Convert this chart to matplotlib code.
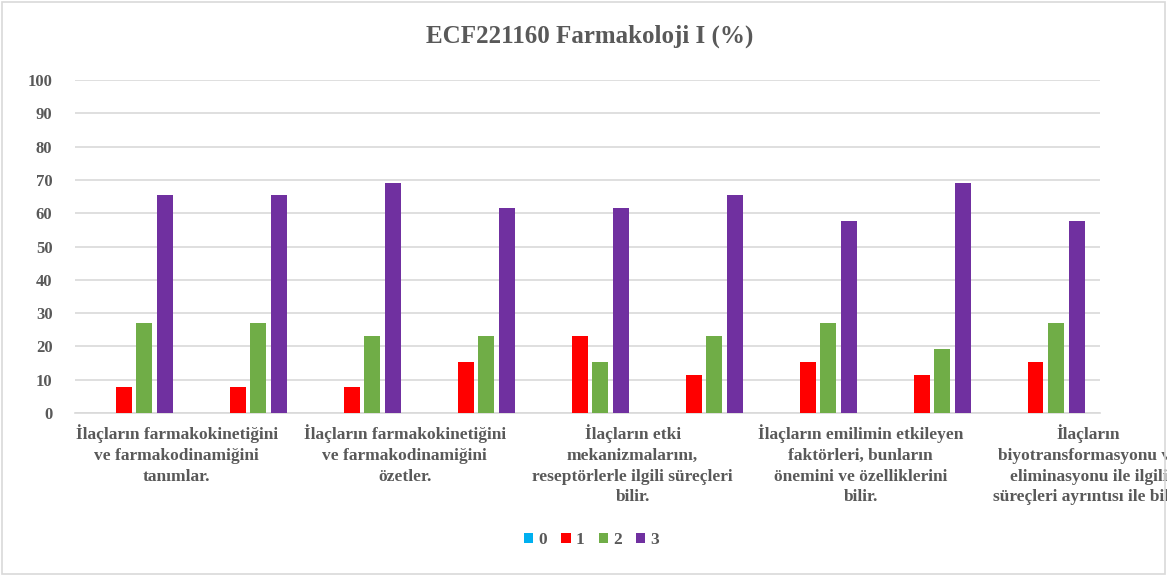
import matplotlib
matplotlib.use("Agg")
import matplotlib.pyplot as plt
import matplotlib.transforms as mtransforms
from matplotlib.patches import Rectangle
import numpy as np

# === data ===
series_names = ['0', '1', '2', '3']
vals_0 = [0, 0, 0, 0, 0, 0, 0, 0, 0]
vals_1 = [7.7, 7.7, 7.7, 15.4, 23.1, 11.5, 15.4, 11.5, 15.4]
vals_2 = [26.9, 26.9, 23.1, 23.1, 15.4, 23.1, 26.9, 19.2, 26.9]
vals_3 = [65.4, 65.4, 69.2, 61.5, 61.5, 65.4, 57.7, 69.2, 57.7]
tick_labels = [
    'İlaçların farmakokinetiğini\nve farmakodinamiğini\ntanımlar.',
    'İlaçların farmakokinetiğini\nve farmakodinamiğini\nözetler.',
    'İlaçların etki\nmekanizmalarını,\nreseptörlerle ilgili süreçleri\nbilir.',
    'İlaçların emilimin etkileyen\nfaktörleri, bunların\nönemini ve özelliklerini\nbilir.',
    'İlaçların\nbiyotransformasyonu ve\neliminasyonu ile ilgili\nsüreçleri ayrıntısı ile bilir.',
]
colors = ['#00B0F0', '#FF0000', '#70AD47', '#7030A0']

serif = ['Liberation Serif', 'DejaVu Serif']
gray = '#595959'

fig = plt.figure(figsize=(11.67, 5.76), dpi=100)
fig.patches.append(Rectangle((0.002, 0.003), 0.996, 0.994, transform=fig.transFigure,
                             fill=False, edgecolor='#d9d9d9', linewidth=1.2))
ax = fig.add_axes([0.064, 0.283, 0.879, 0.578])

x = np.arange(len(vals_1))
width = 0.14
step = 0.18
all_vals = [vals_0, vals_1, vals_2, vals_3]
for i, (v, c, name) in enumerate(zip(all_vals, colors, series_names)):
    ax.bar(x + (i - 1.5) * step + 0.02, v, width=width, color=c, label=name, zorder=3)

ax.set_xlim(-0.5, len(x) - 0.5)
ax.set_ylim(0, 100)
ax.set_yticks(range(0, 101, 10))
ax.yaxis.grid(True, color='#d9d9d9', linewidth=1.2, zorder=0)
for s in ['top', 'right', 'left']:
    ax.spines[s].set_visible(False)
ax.spines['bottom'].set_color('#d9d9d9')
ax.spines['bottom'].set_linewidth(1.2)
ax.tick_params(axis='both', length=0)
ax.tick_params(axis='y', pad=16)
ax.tick_params(axis='x', pad=8)

ax.set_xticks(x[::2])
ax.set_xticklabels(tick_labels, fontfamily=serif, fontweight='bold', fontsize=12.5,
                   color=gray, linespacing=1.4)
offset = mtransforms.ScaledTranslation(0.45, 0, fig.dpi_scale_trans)
for lab in ax.get_xticklabels():
    lab.set_transform(lab.get_transform() + offset)
for lab in ax.get_yticklabels():
    lab.set_fontfamily(serif)
    lab.set_fontweight('bold')
    lab.set_fontsize(12)
    lab.set_color(gray)

fig.suptitle('ECF221160 Farmakoloji I (%)', x=0.505, y=0.958, fontfamily=serif,
             fontweight='bold', fontsize=18, color=gray)

leg = fig.legend(loc='center', bbox_to_anchor=(0.507, 0.062), ncol=4, frameon=False,
                 handlelength=0.55, handleheight=0.55, handletextpad=0.3, columnspacing=0.8,
                 prop={'family': serif, 'weight': 'bold', 'size': 12.5})
for t in leg.get_texts():
    t.set_color(gray)

fig.savefig('out.png', dpi=100)
